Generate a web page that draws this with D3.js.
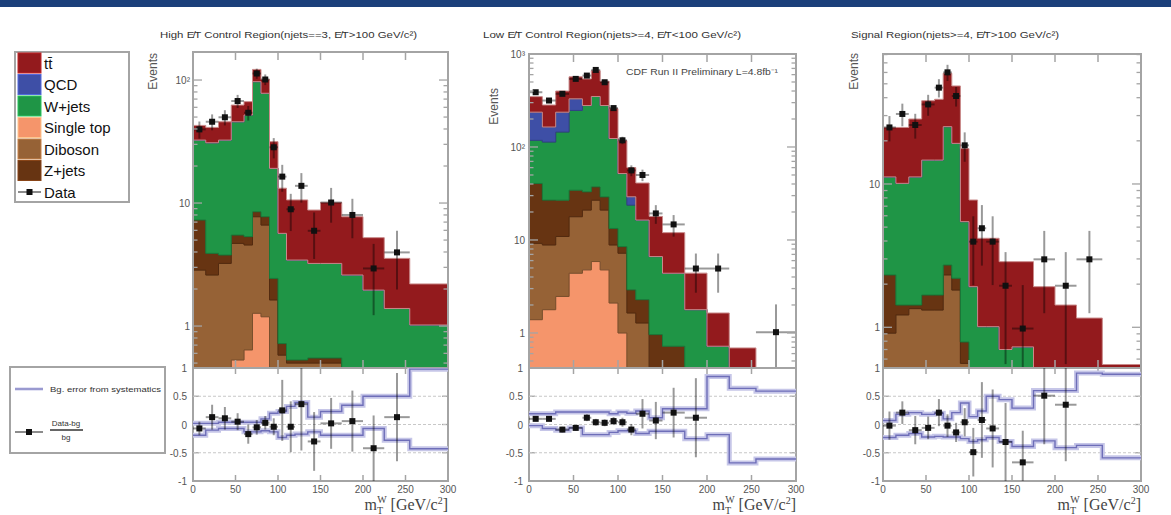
<!DOCTYPE html>
<html><head><meta charset="utf-8">
<script src="https://cdn.jsdelivr.net/npm/d3@7"></script>
<style>body{margin:0;background:#fff;} svg{display:block;font-family:"Liberation Sans",Arial,sans-serif;}</style>
</head><body><svg id="c" width="1171" height="515"></svg>
<script>
// ---------- shared categories / ticks ----------
const binEdges = [0,15,30,45,60,70,80,90,100,110,120,135,150,175,200,225,255,300];
const xTickValues = [0,50,100,150,200,250,300];
const ratioTickValues = [-1,-0.5,0,0.5,1];
const ratioTickLabels = ["-1","-0.5","0","0.5","1"];
const processKeys = ["st","db","zj","wj","qcd","tt"];
const legendLabels = ["tt\u0304","QCD","W+jets","Single top","Diboson","Z+jets","Data"];
const legendKeys = ["tt","qcd","wj","st","db","zj"];
const panelTitles = [
  "High E\u0338T Control Region(njets==3, E\u0338T>100 GeV/c\u00B2)",
  "Low E\u0338T Control Region(njets>=4, E\u0338T<100 GeV/c\u00B2)",
  "Signal Region(njets>=4, E\u0338T>100 GeV/c\u00B2)"
];

// ---------- panel 1 : High control region ----------
const hiSingleTop = [0,0,0,0.53,0.64,1.27,1.19,0,0,0,0,0,0,0,0,0,0];
const hiDiboson   = [2.85,2.6,3.23,4.17,3.92,6.47,5.43,1.63,0.58,0.5,0.5,0.5,0.5,0,0,0,0];
const hiZjets     = [4.43,1.3,0.55,0.79,0.77,0.76,1.12,0.81,0.14,0.03,0.03,0.05,0.05,0,0,0,0];
const hiWjets     = [25.2,27.0,28.7,40.3,46.6,88.5,70.3,16.7,4.95,2.91,2.91,2.68,2.68,2.6,1.96,1.39,1.02];
const hiQCD       = [0,0,0,0,0,0,0,0,0,0,0,0,0,0,0,0,0];
const hiTtbar     = [10.3,10.3,13.3,16.8,14.8,25,23,12.4,7.53,7.16,7.16,5.54,6.87,5.14,3.27,2.16,1.18];
const hiData      = [39.7,45.8,49.8,67.5,54.2,113,101,28.4,16.4,8.9,13.8,5.95,10.1,8.0,2.94,3.97,null];
const hiRatio     = [-0.07,0.13,0.11,0.05,-0.17,-0.05,0.03,-0.04,0.25,-0.04,0.36,-0.30,0.02,0.06,-0.42,0.13,null];
const hiRatioErr  = [0.12,0.22,0.2,0.15,0.17,0.13,0.12,0.15,0.54,0.45,0.82,0.52,0.45,0.54,0.58,0.78,null];
const hiSysUp     = [0.02,0.02,0.04,0.04,0.04,0.04,0.1,0.2,0.23,0.32,0.39,0.13,0.23,0.34,0.5,0.5,0.98];
const hiSysDown   = [-0.19,-0.1,-0.07,-0.07,-0.13,-0.13,-0.11,-0.13,-0.23,-0.19,-0.17,-0.13,-0.19,-0.19,-0.07,-0.28,-0.43];

// ---------- panel 2 : Low control region ----------
const loSingleTop = [1.39,1.78,2.47,4.39,4.77,5.86,4.77,2.1,1.0,0,0,0,0,0,0,0,0];
const loDiboson   = [7.81,7.06,8.43,13.4,16.2,20.9,16.2,6.74,6.2,1.64,1.28,0,0,0,0,0,0];
const loZjets     = [31.3,18.0,15.9,16.5,12,10.5,8.1,4.46,1.28,1.27,1.0,0.96,0.72,0,0,0,0];
const loWjets     = [77.5,86.2,118,213,246,312,250,110,43.3,20.8,14.1,5.67,3.67,1.78,0.72,0,0];
const loQCD       = [119,51,92,82,0,0,0,0,0,5.4,0,0,0,0,0,0,0];
const loTtbar     = [111,119,163,239,261,311,231,135,65.2,30.9,24.6,11.3,7.6,2.62,0.92,0.69,0];
const loData      = [388,316,373,540,586,674,497,262,118,56,50,19.3,14.7,4.93,4.93,null,1.02];
const loRatio     = [0.10,0.10,-0.09,-0.06,0.12,0.04,0.03,0.06,0.04,-0.09,0.19,0.07,0.21,0.12,null,null,null];
const loRatioErr  = [0.04,0.04,0.05,0.05,0.06,0.06,0.06,0.07,0.08,0.1,0.26,0.33,0.44,0.7,null,null,null];
const loSysUp     = [0.19,0.19,0.22,0.22,0.22,0.22,0.22,0.19,0.22,0.2,0.24,0.12,0.28,0.28,0.85,0.64,0.59];
const loSysDown   = [-0.02,-0.07,-0.1,-0.06,-0.18,-0.18,-0.18,-0.14,-0.11,-0.11,-0.16,-0.12,-0.12,-0.25,-0.18,-0.68,-0.61];

// ---------- panel 3 : Signal region ----------
const sigSingleTop = [0,0,0,0,0,0,0,0,0,0,0,0,0,0,0,0,0];
const sigDiboson   = [0.91,1.22,1.35,1.32,1.32,2.32,1.82,0.56,0,0,0,0,0,0,0,0,0];
const sigZjets     = [1.41,0.21,0.08,0.36,0.36,0.4,0.38,0.23,0,0,0,0,0,0,0,0,0];
const sigWjets     = [8.88,8.67,9.77,13.0,13.0,22.4,17.0,4.67,1.92,1.01,1.01,0.70,0.73,0,0,0,0];
const sigQCD       = [0,0,0,0,0,0,0,0,0,0,0,0,0,0,0,0,0];
const sigTtbar     = [13.6,14.7,17.2,23.4,24.3,34.1,29.1,12.2,5.81,3.17,3.17,2.17,2.14,1.92,1.43,1.16,0.55];
const sigData      = [24.8,30.8,25.8,35.9,47,60.1,41.1,18.6,3.96,4.91,3.96,1.95,0.98,2.98,1.95,2.98,null];
const sigRatio     = [-0.02,0.21,-0.10,-0.06,0.21,-0.02,-0.14,0.04,-0.49,0.08,-0.07,-0.31,-0.67,0.51,0.35,null,null];
const sigRatioErr  = [0.25,0.2,0.25,0.2,0.24,0.2,0.17,0.25,0.43,0.67,0.69,0.69,0.56,0.86,1.0,null,null];
const sigSysUp     = [0.07,0.18,0.21,0.18,0.2,0.1,0.21,0.38,0.14,0.24,0.5,0.44,0.29,0.6,0.6,0.91,0.89];
const sigSysDown   = [-0.23,-0.19,-0.16,-0.22,-0.21,-0.22,-0.22,-0.25,-0.3,-0.27,-0.23,-0.3,-0.39,-0.29,-0.41,-0.37,-0.59];

// ---------- styling ----------
const colors = {tt:"#931a1d", qcd:"#3e4fa6", wj:"#1f9546", st:"#f5956b", db:"#966236", zj:"#673412"};
const frameColor = "#a4a4a4";
const bandLight = "#c6c6e8", bandDark = "#6e6eb8";

const svg = d3.select("#c");
svg.append("rect").attr("x",0).attr("y",0).attr("width",1171).attr("height",7).attr("fill","#1b3f7a");

function drawPanel(p){
  const x = d3.scaleLinear().domain([0,300]).range([p.x0,p.x1]);
  const y = d3.scaleLog().domain(p.yDomain).range([p.yMid,p.yTop]);
  const yr = d3.scaleLinear().domain([-1,1]).range([p.yBot,p.yMid]);
  const ymin = p.yDomain[0], ymax = p.yDomain[1];
  const yy = v => y(Math.max(v, ymin*0.3));
  const defs = svg.append("defs");
  defs.append("clipPath").attr("id","cm"+p.id).append("rect")
    .attr("x",p.x0).attr("y",p.yTop).attr("width",p.x1-p.x0).attr("height",p.yMid-p.yTop);
  defs.append("clipPath").attr("id","cr"+p.id).append("rect")
    .attr("x",p.x0).attr("y",p.yMid).attr("width",p.x1-p.x0).attr("height",p.yBot-p.yMid);

  // stacked histogram
  const rows = binEdges.slice(0,-1).map((e,i)=>({st:p.st[i],db:p.db[i],zj:p.zj[i],wj:p.wj[i],qcd:p.qcd[i],tt:p.tt[i]}));
  const series = d3.stack().keys(processKeys)(rows);
  const area = d3.area().curve(d3.curveStepAfter).x(d=>x(d.x)).y0(d=>yy(d.lo)).y1(d=>yy(d.hi));
  const gm = svg.append("g").attr("clip-path",`url(#cm${p.id})`);
  series.forEach(s=>{
    const pts = s.map((d,i)=>({x:binEdges[i], lo:d[0], hi:d[1]}));
    const last = s[s.length-1];
    pts.push({x:binEdges[binEdges.length-1], lo:last[0], hi:last[1]});
    const c = colors[s.key];
    gm.append("path").attr("d",area(pts)).attr("fill",c)
      .attr("stroke", s.key==="tt" ? "#c98a8a" : d3.color(c).darker(0.6)).attr("stroke-width",1);
  });
  // data
  p.data.forEach((v,i)=>{
    if(v==null) return;
    const cx = x((binEdges[i]+binEdges[i+1])/2), e = Math.sqrt(v);
    gm.append("line").attr("x1",cx).attr("x2",cx).attr("y1",yy(v-e)).attr("y2",yy(v+e))
      .attr("stroke","#000").attr("stroke-opacity",0.4).attr("stroke-width",2);
    gm.append("line").attr("x1",x(binEdges[i])).attr("x2",x(binEdges[i+1])).attr("y1",yy(v)).attr("y2",yy(v))
      .attr("stroke","#000").attr("stroke-opacity",0.4).attr("stroke-width",2);
    gm.append("rect").attr("x",cx-3).attr("y",yy(v)-3).attr("width",6).attr("height",6).attr("fill","#111");
  });
  // main frame and ticks
  const ga = svg.append("g").attr("stroke",frameColor).attr("fill","none");
  ga.append("rect").attr("x",p.x0).attr("y",p.yTop).attr("width",p.x1-p.x0).attr("height",p.yMid-p.yTop).attr("stroke-width",2);
  xTickValues.forEach(t=>{
    ga.append("line").attr("x1",x(t)).attr("x2",x(t)).attr("y1",p.yTop).attr("y2",p.yTop+8).attr("stroke-width",1.5);
    ga.append("line").attr("x1",x(t)).attr("x2",x(t)).attr("y1",p.yMid).attr("y2",p.yMid-8).attr("stroke-width",1.5);
    ga.append("line").attr("x1",x(t)).attr("x2",x(t)).attr("y1",p.yMid).attr("y2",p.yMid+6).attr("stroke-width",1.5);
    ga.append("line").attr("x1",x(t)).attr("x2",x(t)).attr("y1",p.yBot).attr("y2",p.yBot-6).attr("stroke-width",1.5);
  });
  for(let k=Math.floor(Math.log10(ymin)); k<=Math.ceil(Math.log10(ymax)); k++){
    for(let m=1;m<=9;m++){
      const v = m*Math.pow(10,k);
      if(v<ymin||v>ymax) continue;
      const len = m===1?9:4.5;
      ga.append("line").attr("x1",p.x0).attr("x2",p.x0+len).attr("y1",y(v)).attr("y2",y(v)).attr("stroke-width",1.3);
      ga.append("line").attr("x1",p.x1-len).attr("x2",p.x1).attr("y1",y(v)).attr("y2",y(v)).attr("stroke-width",1.3);
    }
  }
  const gt = svg.append("g").attr("fill","#555").attr("font-size",10);
  p.yLabels.forEach((lab,i)=>{
    gt.append("text").attr("x",p.labX).attr("y",y(p.yLabelVals[i])+4).attr("text-anchor","end").text(lab);
  });
  gt.append("text").attr("transform",`translate(${p.evX},${p.evY}) rotate(-90)`).attr("text-anchor","end")
    .attr("font-size",12).text("Events");
  svg.append("text").attr("x",p.titleX).attr("y",38).attr("font-size",9).attr("fill","#333")
    .attr("textLength",p.titleW).attr("lengthAdjust","spacingAndGlyphs").text(p.title);

  // ratio panel
  const gr = svg.append("g").attr("clip-path",`url(#cr${p.id})`);
  [0.5,0,-0.5].forEach(t=>{
    gr.append("line").attr("x1",p.x0).attr("x2",p.x1).attr("y1",yr(t)).attr("y2",yr(t))
      .attr("stroke","#c8c8c8").attr("stroke-width",1.2).attr("stroke-dasharray","3,2");
  });
  const stepLine = d3.line().curve(d3.curveStepAfter).x(d=>x(d.x)).y(d=>yr(d.v));
  [p.sysUp,p.sysDown].forEach(arr=>{
    const pts = arr.map((v,i)=>({x:binEdges[i],v}));
    pts.push({x:binEdges[binEdges.length-1], v:arr[arr.length-1]});
    gr.append("path").attr("d",stepLine(pts)).attr("fill","none").attr("stroke",bandLight).attr("stroke-width",5);
    gr.append("path").attr("d",stepLine(pts)).attr("fill","none").attr("stroke",bandDark).attr("stroke-width",1.4);
  });
  p.ratio.forEach((v,i)=>{
    if(v==null) return;
    const cx = x((binEdges[i]+binEdges[i+1])/2), e = p.ratioErr[i];
    gr.append("line").attr("x1",cx).attr("x2",cx).attr("y1",yr(v-e)).attr("y2",yr(v+e))
      .attr("stroke","#000").attr("stroke-opacity",0.4).attr("stroke-width",2);
    gr.append("line").attr("x1",x(binEdges[i])).attr("x2",x(binEdges[i+1])).attr("y1",yr(v)).attr("y2",yr(v))
      .attr("stroke","#000").attr("stroke-opacity",0.4).attr("stroke-width",2);
    gr.append("rect").attr("x",cx-3).attr("y",yr(v)-3).attr("width",6).attr("height",6).attr("fill","#111");
  });
  ga.append("rect").attr("x",p.x0).attr("y",p.yMid).attr("width",p.x1-p.x0).attr("height",p.yBot-p.yMid).attr("stroke-width",2);
  ratioTickValues.forEach((t,i)=>{
    ga.append("line").attr("x1",p.x0).attr("x2",p.x0+6).attr("y1",yr(t)).attr("y2",yr(t)).attr("stroke-width",1.3);
    ga.append("line").attr("x1",p.x1-6).attr("x2",p.x1).attr("y1",yr(t)).attr("y2",yr(t)).attr("stroke-width",1.3);
    gt.append("text").attr("x",p.rLabX).attr("y",yr(t)+4).attr("text-anchor","end").text(ratioTickLabels[i]);
  });
  xTickValues.forEach(t=>{
    gt.append("text").attr("x",x(t)).attr("y",p.yBot+12).attr("text-anchor","middle").text(t);
  });
  // axis title
  const at = svg.append("text").attr("x",p.x1).attr("y",510).attr("text-anchor","end")
    .attr("font-family","'Liberation Serif',serif").attr("font-size",16).attr("fill","#444");
  at.append("tspan").text("m");
  at.append("tspan").attr("font-size",10).attr("dy",4).text("T");
  at.append("tspan").attr("font-size",10).attr("dx",-6).attr("dy",-11).text("W");
  at.append("tspan").attr("dy",7).text(" [GeV/c");
  at.append("tspan").attr("font-size",10).attr("dy",-6).text("2");
  at.append("tspan").attr("dy",6).text("]");
  return {x,y};
}

drawPanel({id:1, x0:193, x1:448, yTop:52, yMid:368, yBot:481, yDomain:[0.456,169],
  st:hiSingleTop, db:hiDiboson, zj:hiZjets, wj:hiWjets, qcd:hiQCD, tt:hiTtbar, data:hiData,
  ratio:hiRatio, ratioErr:hiRatioErr, sysUp:hiSysUp, sysDown:hiSysDown,
  yLabels:["10\u00B2","10","1"], yLabelVals:[100,10,1], labX:190, rLabX:187,
  evX:157, evY:53, title:panelTitles[0], titleX:160, titleW:257});
drawPanel({id:2, x0:529, x1:796, yTop:54, yMid:368, yBot:481, yDomain:[0.42,1000],
  st:loSingleTop, db:loDiboson, zj:loZjets, wj:loWjets, qcd:loQCD, tt:loTtbar, data:loData,
  ratio:loRatio, ratioErr:loRatioErr, sysUp:loSysUp, sysDown:loSysDown,
  yLabels:["10\u00B3","10\u00B2","10","1"], yLabelVals:[1000,100,10,1], labX:525, rLabX:523,
  evX:498, evY:88, title:panelTitles[1], titleX:483, titleW:258});
drawPanel({id:3, x0:883, x1:1141, yTop:54, yMid:368, yBot:481, yDomain:[0.52,80.7],
  st:sigSingleTop, db:sigDiboson, zj:sigZjets, wj:sigWjets, qcd:sigQCD, tt:sigTtbar, data:sigData,
  ratio:sigRatio, ratioErr:sigRatioErr, sysUp:sigSysUp, sysDown:sigSysDown,
  yLabels:["10","1"], yLabelVals:[10,1], labX:880, rLabX:880,
  evX:858, evY:53, title:panelTitles[2], titleX:851, titleW:208});

svg.append("text").attr("x",626).attr("y",75).attr("font-size",8.5).attr("fill","#444")
  .attr("textLength",152).attr("lengthAdjust","spacingAndGlyphs").text("CDF Run II Preliminary L=4.8fb\u207B\u00B9");

// ---------- legend 1 ----------
const lg = svg.append("g");
lg.append("rect").attr("x",15).attr("y",52).attr("width",114).attr("height",150)
  .attr("fill","#fff").attr("stroke",frameColor).attr("stroke-width",2);
legendLabels.forEach((lab,i)=>{
  const cy = 63 + i*21.5;
  if(i<legendKeys.length){
    const c = colors[legendKeys[i]];
    lg.append("rect").attr("x",18).attr("y",cy-10).attr("width",23).attr("height",20).attr("fill",c)
      .attr("stroke",d3.color(c).brighter(0.8)).attr("stroke-width",1);
  } else {
    lg.append("line").attr("x1",18).attr("x2",41).attr("y1",cy).attr("y2",cy).attr("stroke","#000").attr("stroke-opacity",0.45).attr("stroke-width",2);
    lg.append("rect").attr("x",26.5).attr("y",cy-3).attr("width",6).attr("height",6).attr("fill","#111");
  }
  lg.append("text").attr("x",44).attr("y",cy+5.5).attr("font-size",15).attr("fill","#111").text(lab);
});

// ---------- legend 2 ----------
const l2 = svg.append("g");
l2.append("rect").attr("x",10).attr("y",367).attr("width",155).attr("height",86)
  .attr("fill","#fff").attr("stroke",frameColor).attr("stroke-width",2);
l2.append("line").attr("x1",15).attr("x2",43).attr("y1",389).attr("y2",389).attr("stroke",bandLight).attr("stroke-width",3);
l2.append("line").attr("x1",15).attr("x2",43).attr("y1",389).attr("y2",389).attr("stroke",bandDark).attr("stroke-width",1);
l2.append("text").attr("x",50).attr("y",392).attr("font-size",7.5).attr("fill","#333")
  .attr("textLength",111).attr("lengthAdjust","spacingAndGlyphs").text("Bg. error from systematics");
l2.append("line").attr("x1",15).attr("x2",43).attr("y1",432).attr("y2",432).attr("stroke","#000").attr("stroke-opacity",0.45).attr("stroke-width",2);
l2.append("rect").attr("x",26).attr("y",429).attr("width",6).attr("height",6).attr("fill","#111");
l2.append("text").attr("x",66).attr("y",426).attr("text-anchor","middle").attr("font-size",8).attr("fill","#333").text("Data-bg");
l2.append("line").attr("x1",50).attr("x2",83).attr("y1",430).attr("y2",430).attr("stroke","#333").attr("stroke-width",1.5);
l2.append("text").attr("x",66).attr("y",440).attr("text-anchor","middle").attr("font-size",8).attr("fill","#333").text("bg");
</script></body></html>
